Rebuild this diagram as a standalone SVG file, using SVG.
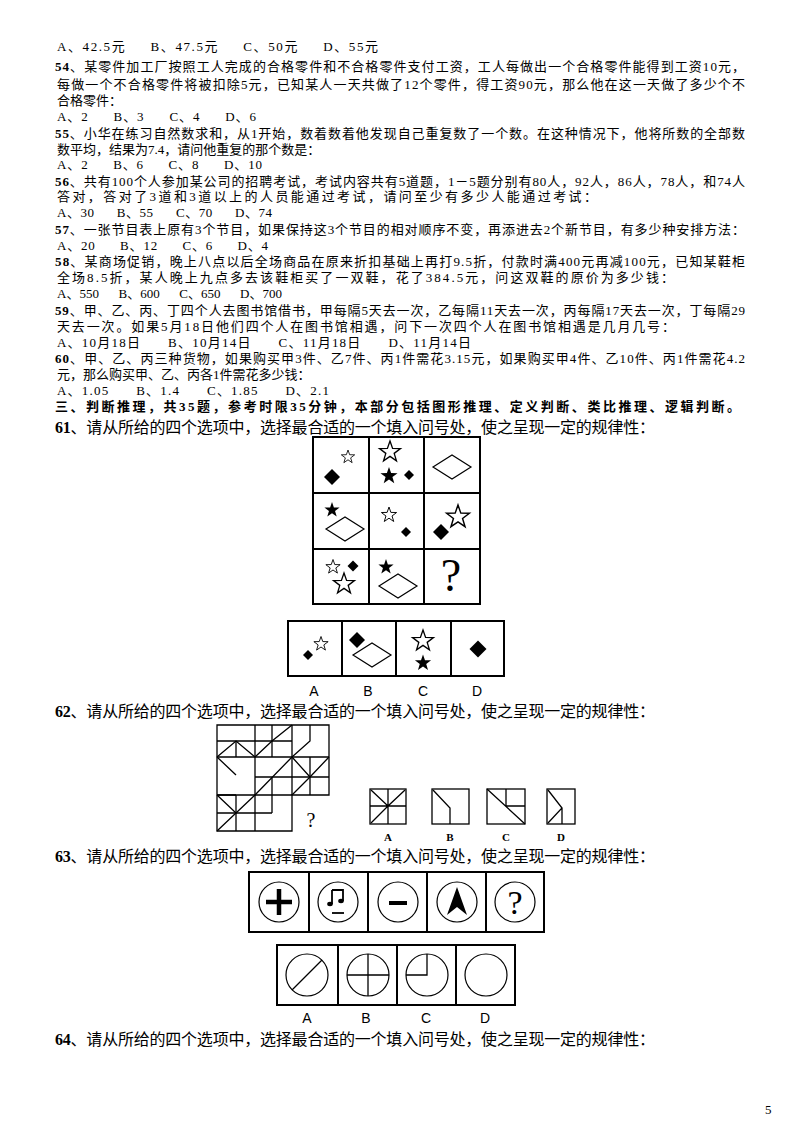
<svg xmlns="http://www.w3.org/2000/svg" width="800" height="1132" viewBox="0 0 800 1132">
<style>
.t{font-family:"Liberation Serif","Noto Sans CJK SC",serif;font-size:13px;fill:#000;white-space:pre}
.q{font-family:"Liberation Serif","Noto Sans CJK SC",serif;font-size:16px;fill:#000}
.b{font-weight:bold}
.lab{font-family:"Liberation Sans",Arial,sans-serif;font-size:14px;fill:#000;text-anchor:middle}
.lab2{font-family:"Liberation Serif",serif;font-size:11px;fill:#000;text-anchor:middle;font-weight:bold}
.box{fill:none;stroke:#000;stroke-width:2}
.ln{fill:none;stroke:#000;stroke-width:1.3}
.o{fill:#fff;stroke:#000;stroke-width:1.2}
.f{fill:#000}
</style>
<defs>
<path id="star" d="M0,-10 L2.35,-3.24 9.51,-3.09 3.80,1.24 5.88,8.09 0,4 -5.88,8.09 -3.80,1.24 -9.51,-3.09 -2.35,-3.24Z"/>
<path id="dia" d="M0,-10 L10,0 0,10 -10,0Z"/>
<path id="fdia" d="M-19,0 L0,-12 19,0 0,12Z"/>
</defs>
<rect width="800" height="1132" fill="#fff"/>
<g id="text" xml:space="preserve">
<text class="t" x="57" y="51" textLength="321">A、42.5元     B、47.5元     C、50元     D、55元</text>
<text class="t" x="55" y="71" textLength="690"><tspan class="b">54</tspan>、某零件加工厂按照工人完成的合格零件和不合格零件支付工资，工人每做出一个合格零件能得到工资10元，</text>
<text class="t" x="57" y="89" textLength="688">每做一个不合格零件将被扣除5元，已知某人一天共做了12个零件，得工资90元，那么他在这一天做了多少个不</text>
<text class="t" x="57" y="105">合格零件：</text>
<text class="t" x="57" y="121" textLength="199">A、2      B、3      C、4      D、6</text>
<text class="t" x="55" y="138" textLength="690"><tspan class="b">55</tspan>、小华在练习自然数求和，从1开始，数着数着他发现自己重复数了一个数。在这种情况下，他将所数的全部数</text>
<text class="t" x="57" y="154">数平均，结果为7.4，请问他重复的那个数是：</text>
<text class="t" x="57" y="169" textLength="205">A、2      B、6      C、8      D、10</text>
<text class="t" x="55" y="186" textLength="690"><tspan class="b">56</tspan>、共有100个人参加某公司的招聘考试，考试内容共有5道题，1－5题分别有80人，92人，86人，78人，和74人</text>
<text class="t" x="57" y="201" textLength="540">答对，答对了3道和3道以上的人员能通过考试，请问至少有多少人能通过考试：</text>
<text class="t" x="57" y="217" textLength="215">A、30      B、55      C、70      D、74</text>
<text class="t" x="55" y="234" textLength="690"><tspan class="b">57</tspan>、一张节目表上原有3个节目，如果保持这3个节目的相对顺序不变，再添进去2个新节目，有多少种安排方法：</text>
<text class="t" x="57" y="250" textLength="211">A、20      B、12      C、6      D、4</text>
<text class="t" x="55" y="266" textLength="690"><tspan class="b">58</tspan>、某商场促销，晚上八点以后全场商品在原来折扣基础上再打9.5折，付款时满400元再减100元，已知某鞋柜</text>
<text class="t" x="57" y="282" textLength="617">全场8.5折，某人晚上九点多去该鞋柜买了一双鞋，花了384.5元，问这双鞋的原价为多少钱：</text>
<text class="t" x="57" y="298" textLength="225">A、550      B、600      C、650      D、700</text>
<text class="t" x="55" y="315" textLength="690"><tspan class="b">59</tspan>、甲、乙、丙、丁四个人去图书馆借书，甲每隔5天去一次，乙每隔11天去一次，丙每隔17天去一次，丁每隔29</text>
<text class="t" x="57" y="331" textLength="618">天去一次。如果5月18日他们四个人在图书馆相遇，问下一次四个人在图书馆相遇是几月几号：</text>
<text class="t" x="57" y="347" textLength="414">A、10月18日      B、10月14日      C、11月18日      D、11月14日</text>
<text class="t" x="55" y="363" textLength="690"><tspan class="b">60</tspan>、甲、乙、丙三种货物，如果购买甲3件、乙7件、丙1件需花3.15元，如果购买甲4件、乙10件、丙1件需花4.2</text>
<text class="t" x="57" y="379">元，那么购买甲、乙、丙各1件需花多少钱：</text>
<text class="t" x="57" y="395" textLength="272">A、1.05      B、1.4      C、1.85      D、2.1</text>
<text class="t b" x="55" y="411" textLength="685">三、判断推理，共35题，参考时限35分钟，本部分包括图形推理、定义判断、类比推理、逻辑判断。</text>
<text class="q" x="55" y="433" textLength="600"><tspan class="b">61</tspan>、请从所给的四个选项中，选择最合适的一个填入问号处，使之呈现一定的规律性：</text>
<text class="q" x="55" y="717" textLength="600"><tspan class="b">62</tspan>、请从所给的四个选项中，选择最合适的一个填入问号处，使之呈现一定的规律性：</text>
<text class="q" x="55" y="862" textLength="600"><tspan class="b">63</tspan>、请从所给的四个选项中，选择最合适的一个填入问号处，使之呈现一定的规律性：</text>
<text class="q" x="55" y="1045" textLength="600"><tspan class="b">64</tspan>、请从所给的四个选项中，选择最合适的一个填入问号处，使之呈现一定的规律性：</text>
<text class="t" x="765" y="1114">5</text>
</g>
<g id="q61-grid">
<rect class="box" x="313" y="437" width="167" height="167"/>
<path class="box" d="M369,437V604M424,437V604M313,493H480M313,549H480"/>
<use href="#dia" class="f" transform="translate(332,477) scale(0.8)"/>
<use href="#star" class="o" transform="translate(348,457) scale(0.7)"/>
<use href="#star" class="o" transform="translate(390,452) scale(1.1)"/>
<use href="#star" class="f" transform="translate(389,476) scale(0.9)"/>
<use href="#dia" class="f" transform="translate(409,475) scale(0.5)"/>
<use href="#fdia" class="o" transform="translate(452,467)"/>
<use href="#star" class="f" transform="translate(332,510) scale(0.8)"/>
<use href="#fdia" class="o" transform="translate(345,529)"/>
<use href="#star" class="o" transform="translate(389,515) scale(0.8)"/>
<use href="#dia" class="f" transform="translate(406,532) scale(0.5)"/>
<use href="#star" class="o" transform="translate(458,517) scale(1.2)"/>
<use href="#dia" class="f" transform="translate(441,532) scale(0.8)"/>
<use href="#star" class="o" transform="translate(333,567) scale(0.75)"/>
<use href="#dia" class="f" transform="translate(353,566) scale(0.55)"/>
<use href="#star" class="o" transform="translate(344,584) scale(1.1)"/>
<use href="#star" class="f" transform="translate(386,567) scale(0.8)"/>
<use href="#fdia" class="o" transform="translate(398,586)"/>
<text x="451" y="591" font-family="Liberation Serif,serif" font-size="46" text-anchor="middle">?</text>
</g>
<g id="q61-options">
<rect class="box" x="288" y="621" width="216" height="55"/>
<path class="box" d="M342,621V676M396,621V676M451,621V676"/>
<use href="#dia" class="f" transform="translate(308,655) scale(0.5)"/>
<use href="#star" class="o" transform="translate(321,644) scale(0.75)"/>
<use href="#dia" class="f" transform="translate(357,640) scale(0.8)"/>
<use href="#fdia" class="o" transform="translate(372,655)"/>
<use href="#star" class="o" transform="translate(423,641) scale(1.1)"/>
<use href="#star" class="f" transform="translate(423,663) scale(0.85)"/>
<use href="#dia" class="f" transform="translate(478,649) scale(0.85)"/>
<text class="lab" x="314" y="696">A</text>
<text class="lab" x="368" y="696">B</text>
<text class="lab" x="423" y="696">C</text>
<text class="lab" x="477" y="696">D</text>
</g>
<g id="q62-grid">
<path class="ln" stroke-width="1.6" d="M217,725H329V795H292V831H217Z"/>
<path class="ln" d="M217,757H329M217,795H292M255,725V831M292,725V795M236,741V757M217,741H255M236,795V831M217,813H255M272,725V757M255,741H292M272,777V813M255,777H310M310,757V795M292,777H329M255,813H272"/>
<path class="ln" d="M217,757L236,741L255,757M217,757L236,775M236,795H217M217,795L236,813L217,831M255,757L272,741L292,725M292,757L310,741L310,725M292,795L310,777L329,757M310,777L292,757M255,795L292,757M236,813L255,795"/>
<text x="311" y="827" font-family="Liberation Serif,serif" font-size="20" text-anchor="middle">?</text>
</g>
<g id="q62-options">
<rect class="ln" x="370" y="789" width="36" height="35"/>
<path class="ln" d="M388,789V824M370,806H406M371,790L388,806L371,823M405,790L388,806"/>
<rect class="ln" x="432" y="789" width="37" height="35"/>
<path class="ln" d="M433,790L450,808V824"/>
<rect class="ln" x="487" y="789" width="38" height="35"/>
<path class="ln" d="M487,789L525,824M506,789V806H525"/>
<rect class="ln" x="547" y="789" width="28" height="35"/>
<path class="ln" d="M548,790L562,808L548,823M562,808V824"/>
<text class="lab2" x="388" y="841">A</text>
<text class="lab2" x="450" y="841">B</text>
<text class="lab2" x="506" y="841">C</text>
<text class="lab2" x="561" y="841">D</text>
</g>
<g id="q63-top">
<rect class="box" x="249" y="872" width="295" height="60"/>
<path class="box" d="M309,872V932M368,872V932M427,872V932M486,872V932"/>
<circle class="o" cx="279" cy="902" r="20" stroke-width="2"/>
<path d="M279,889V915M266,902H292" stroke="#000" stroke-width="4.5"/>
<circle class="o" cx="338" cy="902" r="20" stroke-width="2"/>
<path d="M332,890H343V901M332,890V904" stroke="#000" stroke-width="1.8" fill="none"/>
<ellipse class="f" cx="330" cy="904" rx="2.8" ry="2.2"/>
<ellipse class="f" cx="341" cy="901" rx="2.8" ry="2.2"/>
<path d="M332,913H344" stroke="#000" stroke-width="1.8"/>
<circle class="o" cx="398" cy="902" r="20" stroke-width="2"/>
<path d="M389,903H407" stroke="#000" stroke-width="4"/>
<circle class="o" cx="457" cy="902" r="20" stroke-width="2"/>
<path class="f" d="M457,887L467,915L457,907L447,915Z"/>
<circle class="o" cx="515" cy="902" r="20" stroke-width="2"/>
<text x="515" y="914" font-family="Liberation Serif,serif" font-size="34" text-anchor="middle">?</text>
</g>
<g id="q63-options">
<rect class="box" x="277" y="945" width="238" height="60"/>
<path class="box" d="M338,945V1005M397,945V1005M456,945V1005"/>
<circle class="o" cx="307" cy="975" r="21" stroke-width="1.5"/>
<path class="ln" d="M322,960L292,990"/>
<circle class="o" cx="368" cy="975" r="21" stroke-width="1.5"/>
<path class="ln" d="M368,954V996M347,975H389"/>
<circle class="o" cx="427" cy="975" r="21" stroke-width="1.5"/>
<path class="ln" d="M427,954V975H406"/>
<circle class="o" cx="486" cy="975" r="21" stroke-width="1.5"/>
<text class="lab" x="307" y="1023">A</text>
<text class="lab" x="366" y="1023">B</text>
<text class="lab" x="426" y="1023">C</text>
<text class="lab" x="485" y="1023">D</text>
</g>
</svg>
